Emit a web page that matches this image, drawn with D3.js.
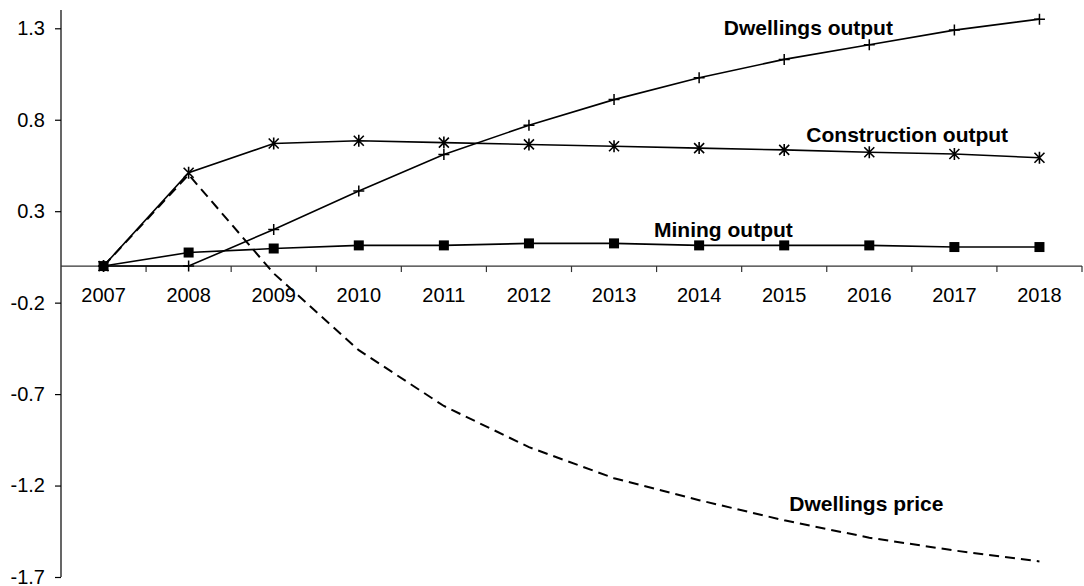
<!DOCTYPE html>
<html>
<head>
<meta charset="utf-8">
<script src="https://cdn.jsdelivr.net/npm/d3@7"></script>
<style>
  html, body { margin: 0; padding: 0; background: #fff; }
  svg { display: block; font-family: "Liberation Sans", Arial, sans-serif; }
</style>
</head>
<body>
<svg id="chart" width="1084" height="586"></svg>
<script>
const years = ["2007","2008","2009","2010","2011","2012","2013","2014","2015","2016","2017","2018"];
const dwellingsOutput    = [0, 0, 0.20, 0.41, 0.61, 0.77, 0.91, 1.03, 1.13, 1.21, 1.29, 1.35];
const constructionOutput = [0, 0.51, 0.67, 0.685, 0.675, 0.665, 0.655, 0.645, 0.635, 0.622, 0.613, 0.592];
const miningOutput       = [0, 0.074, 0.096, 0.113, 0.113, 0.124, 0.124, 0.113, 0.113, 0.113, 0.104, 0.104];
const dwellingsPrice     = [0, 0.50, -0.04, -0.46, -0.765, -0.99, -1.16, -1.28, -1.39, -1.485, -1.555, -1.615];
const yTicks = [1.3, 0.8, 0.3, -0.2, -0.7, -1.2, -1.7];
const yTickLabels = ["1.3", "0.8", "0.3", "-0.2", "-0.7", "-1.2", "-1.7"];
const yDomain = [-1.7, 1.4];
// annotation labels: [text, category index (fractional), value at baseline]
const labelNames = ["Dwellings output", "Construction output", "Mining output", "Dwellings price"];
const labelIdx = [7.29, 8.26, 6.47, 8.06];
const labelVal = [1.265, 0.68, 0.158, -1.338];

const svg = d3.select("#chart");
const margin = {left: 61, right: 2, top: 10, bottom: 9};
const W = 1084, H = 586;

const x = d3.scaleBand().domain(years).range([margin.left, W - margin.right]).padding(0);
const xIdx = d3.scaleLinear().domain([0, years.length - 1])
  .range([x(years[0]) + x.bandwidth() / 2, x(years[years.length - 1]) + x.bandwidth() / 2]);
const y = d3.scaleLinear().domain(yDomain).range([H - margin.bottom, margin.top]);

svg.append("rect").attr("width", W).attr("height", H).attr("fill", "#fff");

// Y axis
const yAxis = svg.append("g").attr("transform", `translate(${margin.left},0)`)
  .call(d3.axisLeft(y).tickValues(yTicks)
    .tickFormat((d, i) => yTickLabels[i]).tickSize(6).tickPadding(10));
yAxis.select(".domain").attr("stroke", "#000").attr("stroke-width", 1.2)
  .attr("d", `M0,${y(yDomain[1])}V${y(yDomain[0])}`);
yAxis.selectAll(".tick line").attr("stroke", "#000").attr("stroke-width", 1.2);
yAxis.selectAll(".tick text").attr("font-size", 20).attr("fill", "#000")
  .attr("font-family", "'Liberation Sans', Arial, sans-serif");

// X axis at zero
const xg = svg.append("g").attr("transform", `translate(0,${y(0)})`);
xg.append("line").attr("x1", margin.left).attr("x2", W - margin.right)
  .attr("y1", 0).attr("y2", 0).attr("stroke", "#333").attr("stroke-width", 1.2);
const bounds = years.map(d => x(d)).concat([x(years[years.length - 1]) + x.bandwidth()]).slice(1);
xg.selectAll("line.tk").data(bounds).join("line").attr("class", "tk")
  .attr("x1", d => d).attr("x2", d => d).attr("y1", 0).attr("y2", 6)
  .attr("stroke", "#333").attr("stroke-width", 1.2);
xg.selectAll("text").data(years).join("text")
  .attr("x", d => x(d) + x.bandwidth() / 2).attr("y", 36)
  .attr("text-anchor", "middle").attr("font-size", 20).attr("fill", "#000")
  .text(d => d);

const line = d3.line().x((d, i) => xIdx(i)).y(d => y(d));

// Dwellings price (dashed)
svg.append("path").datum(dwellingsPrice).attr("d", line)
  .attr("fill", "none").attr("stroke", "#000").attr("stroke-width", 2)
  .attr("stroke-dasharray", "10,6");

// Dwellings output (plus markers)
svg.append("path").datum(dwellingsOutput).attr("d", line)
  .attr("fill", "none").attr("stroke", "#000").attr("stroke-width", 1.6);
svg.append("g").selectAll("path").data(dwellingsOutput).join("path")
  .attr("transform", (d, i) => `translate(${xIdx(i)},${y(d)})`)
  .attr("d", "M-5.5,0H5.5M0,-5.5V5.5")
  .attr("stroke", "#000").attr("stroke-width", 1.5).attr("fill", "none");

// Construction output (asterisk markers)
svg.append("path").datum(constructionOutput).attr("d", line)
  .attr("fill", "none").attr("stroke", "#000").attr("stroke-width", 1.6);
svg.append("g").selectAll("path").data(constructionOutput).join("path")
  .attr("transform", (d, i) => `translate(${xIdx(i)},${y(d)})`)
  .attr("d", "M-5,-5L5,5M-5,5L5,-5M0,-6V6")
  .attr("stroke", "#000").attr("stroke-width", 1.6).attr("fill", "none");

// Mining output (square markers)
svg.append("path").datum(miningOutput).attr("d", line)
  .attr("fill", "none").attr("stroke", "#000").attr("stroke-width", 1.6);
svg.append("g").selectAll("rect").data(miningOutput).join("rect")
  .attr("x", (d, i) => xIdx(i) - 5).attr("y", d => y(d) - 5)
  .attr("width", 10).attr("height", 10).attr("fill", "#000");

// Series labels
svg.append("g").selectAll("text").data(labelNames).join("text")
  .attr("x", (d, i) => xIdx(labelIdx[i])).attr("y", (d, i) => y(labelVal[i]))
  .attr("font-size", 21).attr("font-weight", "bold").attr("fill", "#000")
  .text(d => d);
</script>
</body>
</html>
